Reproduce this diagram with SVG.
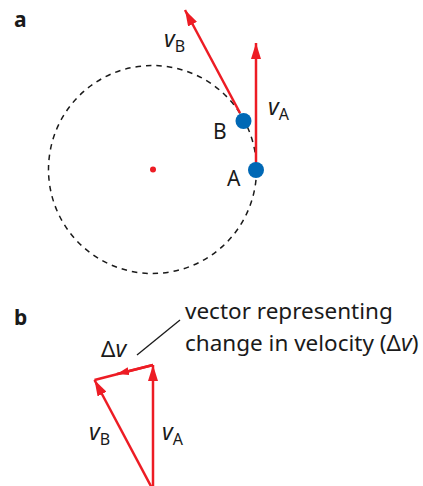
<svg xmlns="http://www.w3.org/2000/svg" width="423" height="486" viewBox="0 0 423 486">
<defs>
<style>
.t{font-family:"Noto Sans","Open Sans",sans-serif;font-size:21px;fill:#1a1a1a}
.l{font-size:22.5px}
.i{font-style:italic;font-size:23px}
.s{font-size:16px}
.bold{font-weight:bold}
.vec{stroke:#ED1C24;stroke-width:2.5;fill:none}
.dot{fill:#0068B5}
</style>
<marker id="ah" viewBox="0 0 16 10" refX="16" refY="5" markerWidth="16" markerHeight="10" markerUnits="userSpaceOnUse" orient="auto">
<path d="M0,0 L16,5 L0,10 Z" fill="#ED1C24"/>
</marker>
<marker id="ahs" viewBox="0 0 12 8" refX="12" refY="4" markerWidth="12" markerHeight="8" markerUnits="userSpaceOnUse" orient="auto">
<path d="M0,0 L12,4 L0,8 Z" fill="#ED1C24"/>
</marker>
</defs>
<rect width="423" height="486" fill="#fff"/>
<g id="panel-a">
<text class="t bold" x="14" y="27">a</text>
<circle id="orbit" cx="152.5" cy="169.5" r="104" fill="none" stroke="#1a1a1a" stroke-width="1.5" stroke-dasharray="5.5,5"/>
<circle id="centre" cx="153" cy="169.5" r="3" fill="#ED1C24"/>
</g>
<g id="connectors">
<line class="vec" x1="256" y1="170" x2="256" y2="43" marker-end="url(#ah)"/>
<line class="vec" x1="240" y1="113" x2="185" y2="10" marker-end="url(#ah)"/>
<line class="vec" x1="153" y1="490" x2="153" y2="365" marker-end="url(#ah)"/>
<line class="vec" x1="153" y1="490" x2="94.5" y2="380" marker-end="url(#ah)"/>
<line class="vec" x1="153" y1="365" x2="94.5" y2="380"/>
<line class="vec" x1="153" y1="365" x2="117" y2="374" marker-end="url(#ahs)"/>
<line x1="137" y1="355" x2="180" y2="320" stroke="#1a1a1a" stroke-width="1.3"/>
</g>
<g id="node-B">
<circle class="dot" cx="243.5" cy="121" r="8"/>
<text class="t" x="213" y="139">B</text>
</g>
<g id="node-A">
<circle class="dot" cx="256" cy="170" r="8"/>
<text class="t" x="227" y="186">A</text>
</g>
<g id="label-vB-a">
<text class="t" x="164" y="47"><tspan class="i">v</tspan><tspan class="s" dy="5">B</tspan></text>
</g>
<g id="label-vA-a">
<text class="t" x="268" y="115"><tspan class="i">v</tspan><tspan class="s" dy="5">A</tspan></text>
</g>
<g id="panel-b">
<text class="t bold" x="14" y="325">b</text>
<text class="t l" x="101" y="357">Δ<tspan class="i">v</tspan></text>
<text class="t" x="89" y="440"><tspan class="i">v</tspan><tspan class="s" dy="5">B</tspan></text>
<text class="t" x="162" y="440"><tspan class="i">v</tspan><tspan class="s" dy="5">A</tspan></text>
<text class="t l" x="185" y="319">vector representing</text>
<text class="t l" x="185" y="351">change in velocity (Δ<tspan class="i">v</tspan>)</text>
</g>
</svg>
